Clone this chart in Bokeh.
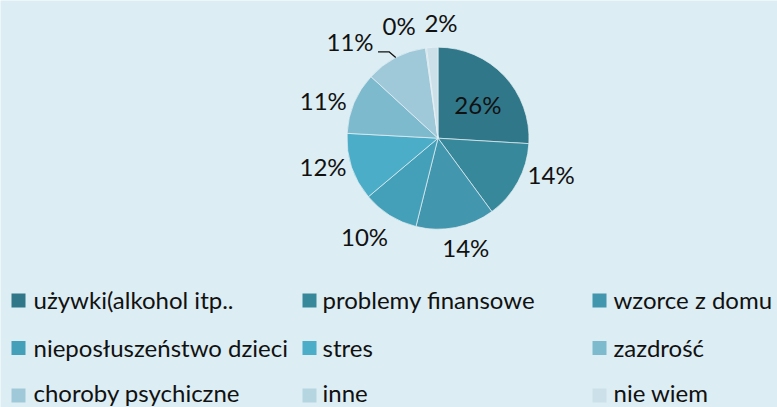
import math
from bokeh.plotting import figure
from bokeh.models import Range1d, ColumnDataSource
from bokeh.core.properties import value
from bokeh.embed import file_html
from bokeh.resources import INLINE

# ---- data ----
categories = ["używki(alkohol itp..", "problemy finansowe", "wzorce z domu",
              "nieposłuszeństwo dzieci", "stres", "zazdrość",
              "choroby psychiczne", "inne", "nie wiem"]
values = [26, 14, 14, 10, 12, 11, 11, 0.2, 2]
colors = ["#31778A", "#38889B", "#4296AE", "#44A0B8", "#4BADC7",
          "#7EBACE", "#9FC9D9", "#B5D5E1", "#CCE0E9"]

# ---- layout ----
W, H = 777, 407
BG = "#DCEDF3"
FONT = "Lato"
FS = "24px"
cx, cy, R = 437.5, 269.3, 91
# label polar positions (degrees clockwise from top, distance from centre)
lab_ang = [52, 109, 166, 216, 255, 287, 317, 340.6, 1.5]
lab_dist = [50.6, 119.6, 115, 125, 119, 120, 129, 117, 113]
LAB_SHIFT = 2.5

p = figure(width=W, height=H, output_backend="svg", toolbar_location=None,
           x_range=Range1d(0, W), y_range=Range1d(0, H),
           x_axis_type=None, y_axis_type=None, min_border=0)
p.grid.visible = False
p.outline_line_color = None
p.background_fill_color = BG
p.border_fill_color = BG

total = sum(values)
starts, ends, mids = [], [], []
cum = 0.0
for v in values:
    a0 = cum / total * 2 * math.pi
    cum += v
    a1 = cum / total * 2 * math.pi
    starts.append(math.pi / 2 - a0)
    ends.append(math.pi / 2 - a1)
    mids.append((a0 + a1) / 2)

src = ColumnDataSource(dict(start=starts, end=ends, color=colors))
p.wedge(x=cx, y=cy, radius=R, start_angle="start", end_angle="end",
        direction="clock", fill_color="color", line_color="#E6F1F5",
        line_width=0.7, source=src)

# percentage labels
lx = [cx + d * math.sin(math.radians(a)) for a, d in zip(lab_ang, lab_dist)]
ly = [cy + d * math.cos(math.radians(a)) for a, d in zip(lab_ang, lab_dist)]
ltxt = [f"{round(v)}%" for v in values]
p.text(x=lx, y=[v + LAB_SHIFT for v in ly], text=ltxt, text_font=value(FONT),
       text_font_size=FS, text_align="center", text_baseline="middle",
       text_color="#111111")

# leader line for "choroby psychiczne"
i = 6
ex = cx + R * math.sin(mids[i])
ey = cy + R * math.cos(mids[i])
p.line(x=[lx[i] + 28, lx[i] + 39, ex], y=[ly[i] - 8, ly[i] - 8, ey],
       line_color="#111111", line_width=1.3)

# legend (3 columns, row-major)
sq_x = [18, 309, 599]
tx_x = [33, 322, 613]
row_sq_y = [107, 59.5, 12]
row_txt_y = [108.3, 60.3, 15]
for k, (name, col) in enumerate(zip(categories, colors)):
    r, c = divmod(k, 3)
    p.rect(x=sq_x[c], y=row_sq_y[r], width=14, height=14,
           fill_color=col, line_color=None)
    p.text(x=[tx_x[c]], y=[row_txt_y[r]], text=[name], text_font=value(FONT),
           text_font_size=FS, text_align="left",
           text_baseline="middle", text_color="#111111")

html = file_html(p, INLINE)
html = html.replace("<body>", f'<body style="background:{BG};margin:0;">', 1)
open("out.html", "w").write(html)
